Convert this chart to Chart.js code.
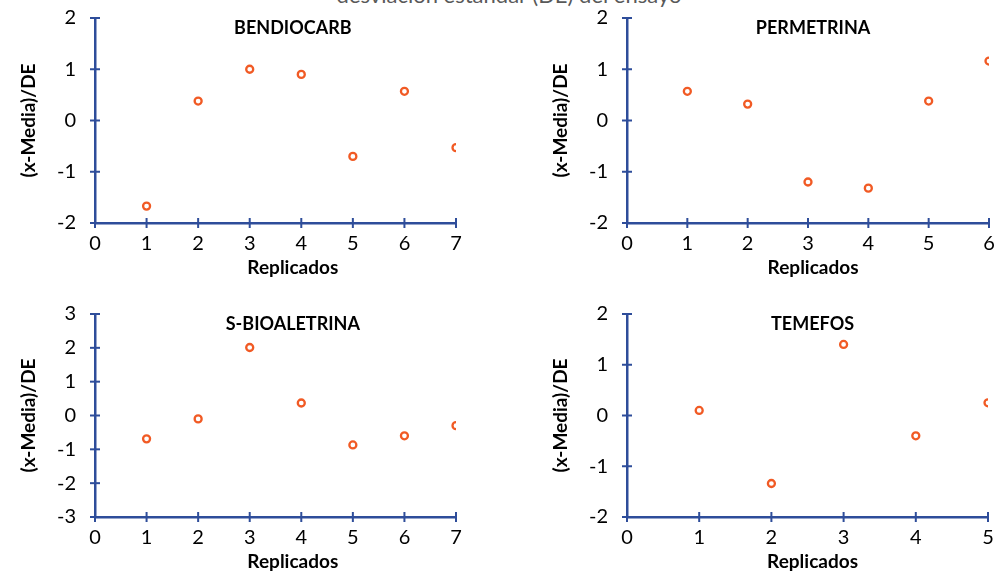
<!DOCTYPE html>
<html>
<head>
<meta charset="utf-8">
<script src="https://cdn.jsdelivr.net/npm/chart.js@4.4.1/dist/chart.umd.min.js"></script>
<style>
  html, body { margin: 0; padding: 0; background: #fff; }
  body { width: 997px; height: 572px; position: relative; overflow: hidden; font-family: Lato, sans-serif; }
  .caja { position: absolute; }
  #titulo { position: absolute; top: -17px; left: 0; width: 1018px; text-align: center;
            font-size: 22px; line-height: 24px; color: #595959; white-space: nowrap; }
</style>
</head>
<body>
<div id="titulo">desviación estándar (DE) del ensayo</div>
<div class="caja" style="left:0;top:-6px;width:475px;height:291px"><canvas id="c1"></canvas></div>
<div class="caja" style="left:532px;top:-6px;width:465px;height:291px"><canvas id="c2"></canvas></div>
<div class="caja" style="left:0;top:290px;width:475px;height:282px"><canvas id="c3"></canvas></div>
<div class="caja" style="left:532px;top:290px;width:465px;height:282px"><canvas id="c4"></canvas></div>
<script>
// datos: (x-Media)/DE por replicado
const replicadosBendiocarb = [1, 2, 3, 4, 5, 6, 7];
const valoresBendiocarb = [-1.67, 0.38, 1.0, 0.9, -0.7, 0.57, -0.53];

const replicadosPermetrina = [1, 2, 3, 4, 5, 6];
const valoresPermetrina = [0.57, 0.32, -1.2, -1.32, 0.38, 1.16];

const replicadosBioaletrina = [1, 2, 3, 4, 5, 6, 7];
const valoresBioaletrina = [-0.69, -0.1, 2.01, 0.37, -0.87, -0.6, -0.3];

const replicadosTemefos = [1, 2, 3, 4, 5];
const valoresTemefos = [0.1, -1.34, 1.4, -0.4, 0.25];

const AZUL = "#2E4D9A";
const NARANJA = "#F15A24";
const FUENTE = "Lato, sans-serif";

// marcas de graduacion cruzadas, titulo interior y titulo del eje x
const plugCruz = {
  id: "cruz",
  afterDraw(chart, args, opts) {
    const ctx = chart.ctx;
    const xs = chart.scales.x, ys = chart.scales.y;
    ctx.save();
    ctx.strokeStyle = AZUL;
    ctx.lineWidth = 2;
    xs.ticks.forEach(t => {
      const px = xs.getPixelForValue(t.value);
      ctx.beginPath(); ctx.moveTo(px, xs.top - 5); ctx.lineTo(px, xs.top + 5); ctx.stroke();
    });
    ys.ticks.forEach(t => {
      const py = ys.getPixelForValue(t.value);
      ctx.beginPath(); ctx.moveTo(ys.right - 5, py); ctx.lineTo(ys.right + 5, py); ctx.stroke();
    });
    const a = chart.chartArea;
    const cx = a.left + opts.fx * (a.right - a.left);
    ctx.fillStyle = "#000";
    ctx.textAlign = "center";
    ctx.textBaseline = "middle";
    ctx.font = "bold 18px " + FUENTE;
    ctx.fillText(opts.texto, cx, a.top + opts.dy);
    ctx.font = "bold 19px " + FUENTE;
    ctx.fillText("Replicados", cx, xs.bottom - opts.tb);
    ctx.restore();
  }
};

function grafico(id, xs, ys, cfg) {
  const puntos = xs.map((x, i) => ({ x: x, y: ys[i] }));
  new Chart(document.getElementById(id), {
    type: "scatter",
    data: {
      datasets: [{
        data: puntos,
        pointStyle: "circle",
        pointRadius: 3.5,
        pointHoverRadius: 3.5,
        pointBorderWidth: 2.3,
        pointBackgroundColor: "#fff",
        pointBorderColor: NARANJA
      }]
    },
    plugins: [plugCruz],
    options: {
      responsive: true,
      maintainAspectRatio: false,
      animation: false,
      layout: { padding: { top: 24, right: cfg.right, left: 0, bottom: 0 } },
      plugins: {
        legend: { display: false },
        tooltip: { enabled: false },
        cruz: { texto: cfg.titulo, fx: cfg.fx, dy: 10, tb: cfg.tb }
      },
      scales: {
        x: {
          type: "linear",
          min: 0, max: cfg.xmax,
          ticks: { stepSize: 1, color: "#000", padding: 1, font: { family: FUENTE, size: 20 } },
          grid: { display: false },
          border: { display: true, color: AZUL, width: 2.5 },
          afterFit: s => { s.height = cfg.xh; }
        },
        y: {
          min: cfg.ymin, max: cfg.ymax,
          ticks: { stepSize: 1, color: "#000", padding: 11, font: { family: FUENTE, size: 20 } },
          grid: { display: false },
          border: { display: true, color: AZUL, width: 2.5 },
          title: { display: true, text: "(x-Media)/DE", color: "#000",
                   font: { family: FUENTE, size: 19, weight: "bold" },
                   padding: { top: 17, bottom: 0 } },
          afterFit: s => { s.width = 95; }
        }
      }
    }
  });
}

grafico("c1", replicadosBendiocarb, valoresBendiocarb,
  { titulo: "BENDIOCARB", xmax: 7, ymin: -2, ymax: 2, right: 19, xh: 62, tb: 17, fx: 0.548 });
grafico("c2", replicadosPermetrina, valoresPermetrina,
  { titulo: "PERMETRINA", xmax: 6, ymin: -2, ymax: 2, right: 8, xh: 62, tb: 17, fx: 0.514 });
grafico("c3", replicadosBioaletrina, valoresBioaletrina,
  { titulo: "S-BIOALETRINA", xmax: 7, ymin: -3, ymax: 3, right: 19, xh: 55, tb: 10, fx: 0.548 });
grafico("c4", replicadosTemefos, valoresTemefos,
  { titulo: "TEMEFOS", xmax: 5, ymin: -2, ymax: 2, right: 9, xh: 55, tb: 10, fx: 0.514 });
</script>
</body>
</html>
